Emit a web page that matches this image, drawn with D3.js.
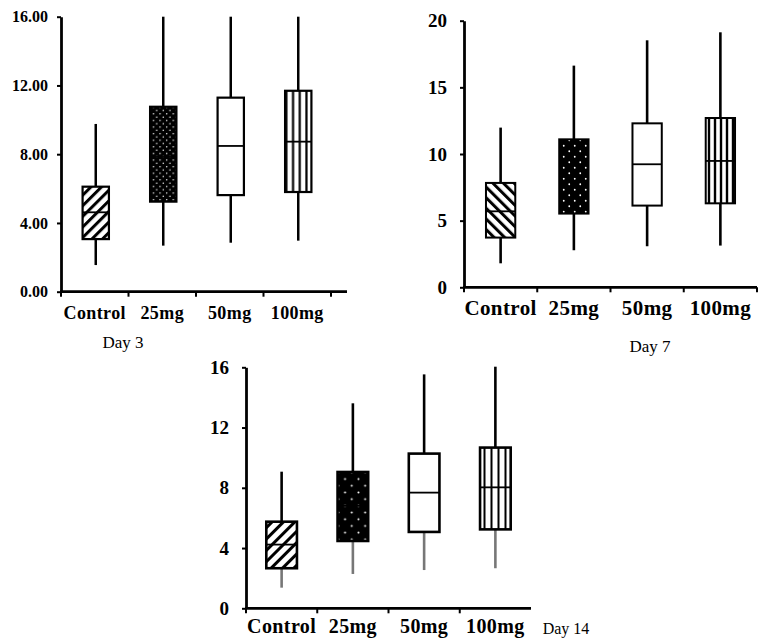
<!DOCTYPE html>
<html>
<head>
<meta charset="utf-8">
<script src="https://cdn.jsdelivr.net/npm/d3@7"></script>
<style>
  body { margin: 0; background: #fff; }
  svg { display: block; }
  text { font-family: "Times New Roman", "Liberation Serif", serif; fill: #000; }
  .tick text { font-weight: bold; }
</style>
</head>
<body>
<script>
// Box plot data
const groups = ['Control', '25mg', '50mg', '100mg'];

const day3Min = [1.55, 2.68, 2.85, 2.97];
const day3Q1 = [3.06, 5.24, 5.62, 5.80];
const day3Median = [4.62, 7.84, 8.48, 8.73];
const day3Q3 = [6.11, 10.76, 11.29, 11.69];
const day3Max = [9.76, 16.0, 16.0, 16.0];
const day3Ticks = [0, 4, 8, 12, 16];

const day7Min = [1.8, 2.78, 3.08, 3.13];
const day7Q1 = [3.73, 5.53, 6.13, 6.3];
const day7Median = [5.7, 8.3, 9.23, 9.48];
const day7Q3 = [7.83, 11.1, 12.3, 12.7];
const day7Max = [11.98, 16.63, 18.53, 19.13];
const day7Ticks = [0, 5, 10, 15, 20];

const day14Min = [1.37, 2.28, 2.54, 2.66];
const day14Q1 = [2.66, 4.47, 5.07, 5.24];
const day14Median = [4.23, 6.8, 7.68, 8.03];
const day14Q3 = [5.75, 9.05, 10.27, 10.67];
const day14Max = [9.07, 13.61, 15.53, 16.04];
const day14Ticks = [0, 4, 8, 12, 16];

const svg = d3.select('body').append('svg')
  .attr('width', 765)
  .attr('height', 642);

const defs = svg.append('defs');

// diagonal hatch, angle gives "/" or "\"
function hatch (id, angle, gap, thick) {
  const p = defs.append('pattern')
    .attr('id', id)
    .attr('patternUnits', 'userSpaceOnUse')
    .attr('width', gap).attr('height', gap)
    .attr('patternTransform', `rotate(${angle})`);
  p.append('rect').attr('width', gap).attr('height', gap).attr('fill', '#fff');
  p.append('rect').attr('width', thick).attr('height', gap).attr('fill', '#000');
}

// black fill with staggered white dots
function dots (id, gap, r) {
  const p = defs.append('pattern')
    .attr('id', id)
    .attr('patternUnits', 'userSpaceOnUse')
    .attr('width', gap).attr('height', gap);
  p.append('rect').attr('width', gap).attr('height', gap).attr('fill', '#000');
  p.append('circle').attr('cx', gap / 4).attr('cy', gap / 4).attr('r', r).attr('fill', '#fff');
  p.append('circle').attr('cx', gap * 3 / 4).attr('cy', gap * 3 / 4).attr('r', r).attr('fill', '#fff');
}

// vertical stripes
function vlines (id, gap, thick, x0) {
  const p = defs.append('pattern')
    .attr('id', id)
    .attr('patternUnits', 'userSpaceOnUse')
    .attr('x', x0)
    .attr('width', gap).attr('height', 10);
  p.append('rect').attr('width', gap).attr('height', 10).attr('fill', '#fff');
  p.append('rect').attr('x', gap / 2 - thick / 2).attr('width', thick).attr('height', 10).attr('fill', '#000');
}

hatch('hatch3', 45, 7.5, 3);
hatch('hatch7', -45, 7.5, 3);
hatch('hatch14', 45, 8, 3);
dots('dots3', 6.6, 0.75);
dots('dots7', 11, 0.9);
dots('dots14', 13.4, 1.0);
vlines('vl3', 6.7, 2.2, 283);
vlines('vl7', 6, 2.4, 706);
vlines('vl14', 7, 2, 481);

function drawPanel (cfg) {
  const rows = groups.map((g, i) => ({
    group: g,
    min: cfg.min[i], q1: cfg.q1[i], median: cfg.median[i], q3: cfg.q3[i], max: cfg.max[i],
    fill: cfg.fills[i]
  }));

  const x = d3.scaleBand()
    .domain(groups)
    .range([cfg.left, cfg.right])
    .paddingInner(0).paddingOuter(0);
  const y = d3.scaleLinear()
    .domain(cfg.domain)
    .range([cfg.bottom, cfg.top]);

  const g = svg.append('g');
  const bw = x.bandwidth() * cfg.boxFrac;
  const cx = d => x(d.group) + x.bandwidth() / 2 + cfg.shift;

  // whiskers
  g.selectAll('line.upper').data(rows).enter().append('line')
    .attr('x1', cx).attr('x2', cx)
    .attr('y1', d => y(d.q3)).attr('y2', d => y(d.max))
    .attr('stroke', '#000').attr('stroke-width', cfg.whisker);
  g.selectAll('line.lower').data(rows).enter().append('line')
    .attr('x1', cx).attr('x2', cx)
    .attr('y1', d => y(d.q1)).attr('y2', d => y(d.min))
    .attr('stroke', cfg.lowColor).attr('stroke-width', cfg.whisker);

  // boxes
  g.selectAll('rect.box').data(rows).enter().append('rect')
    .attr('x', d => cx(d) - bw / 2)
    .attr('width', bw)
    .attr('y', d => y(d.q3))
    .attr('height', d => y(d.q1) - y(d.q3))
    .attr('fill', d => d.fill)
    .attr('stroke', '#000')
    .attr('stroke-width', cfg.boxStroke);

  // medians
  g.selectAll('line.median').data(rows).enter().append('line')
    .attr('x1', d => cx(d) - bw / 2).attr('x2', d => cx(d) + bw / 2)
    .attr('y1', d => y(d.median)).attr('y2', d => y(d.median))
    .attr('stroke', '#000').attr('stroke-width', 1.8);

  // y axis
  const yAxis = g.append('g')
    .attr('transform', `translate(${cfg.left},0)`)
    .call(d3.axisLeft(y)
      .tickValues(cfg.ticks)
      .tickFormat(cfg.format)
      .tickSize(4)
      .tickSizeOuter(0)
      .tickPadding(cfg.yPad));
  yAxis.select('.domain').attr('stroke-width', 2.8);
  yAxis.selectAll('.tick line').attr('stroke-width', 2);
  yAxis.selectAll('.tick text')
    .style('font-size', cfg.yFont + 'px');

  // x axis: line, boundary ticks, centered labels
  g.append('line')
    .attr('x1', cfg.left - 1).attr('x2', cfg.axisEnd)
    .attr('y1', y(0)).attr('y2', y(0))
    .attr('stroke', '#000').attr('stroke-width', 2.8);
  const bounds = groups.map(c => x(c)).concat(cfg.endTick ? [x.range()[1]] : []);
  g.selectAll('line.xtick').data(bounds).enter().append('line')
    .attr('x1', d => d).attr('x2', d => d)
    .attr('y1', y(0)).attr('y2', y(0) + 5)
    .attr('stroke', '#000').attr('stroke-width', 2);
  g.selectAll('text.xlab').data(groups).enter().append('text')
    .attr('x', c => x(c) + x.bandwidth() / 2)
    .attr('y', y(0) + cfg.xLabOff)
    .attr('text-anchor', 'middle')
    .style('font-weight', 'bold')
    .style('font-size', cfg.xFont + 'px')
    .style('letter-spacing', '0.4px')
    .text(c => c);

  g.append('text')
    .attr('x', cfg.titleX).attr('y', cfg.titleY)
    .attr('text-anchor', 'middle')
    .style('font-size', cfg.titleFont + 'px')
    .text(cfg.title);
}

drawPanel({
  min: day3Min, q1: day3Q1, median: day3Median, q3: day3Q3, max: day3Max,
  ticks: day3Ticks, domain: [0, 16], format: d3.format('.2f'),
  fills: ['url(#hatch3)', 'url(#dots3)', '#fff', 'url(#vl3)'],
  left: 61, right: 331, top: 16.7, bottom: 291.7, axisEnd: 347, endTick: true,
  boxFrac: 0.39, whisker: 2.5, boxStroke: 2.2, lowColor: '#000', shift: 1,
  yFont: 16, yPad: 9, xFont: 18, xLabOff: 27,
  title: 'Day 3', titleX: 123, titleY: 348, titleFont: 17
});

drawPanel({
  min: day7Min, q1: day7Q1, median: day7Median, q3: day7Q3, max: day7Max,
  ticks: day7Ticks, domain: [0, 20], format: d3.format('d'),
  fills: ['url(#hatch7)', 'url(#dots7)', '#fff', 'url(#vl7)'],
  left: 464, right: 757, top: 20.7, bottom: 287.3, axisEnd: 757, endTick: true,
  boxFrac: 0.4, whisker: 2.6, boxStroke: 2, lowColor: '#000', shift: 0,
  yFont: 19, yPad: 13, xFont: 21, xLabOff: 28,
  title: 'Day 7', titleX: 650, titleY: 352, titleFont: 17
});

drawPanel({
  min: day14Min, q1: day14Q1, median: day14Median, q3: day14Q3, max: day14Max,
  ticks: day14Ticks, domain: [0, 16], format: d3.format('d'),
  fills: ['url(#hatch14)', 'url(#dots14)', '#fff', 'url(#vl14)'],
  left: 246, right: 531, top: 367.3, bottom: 608.3, axisEnd: 531, endTick: false,
  boxFrac: 0.43, whisker: 2.6, boxStroke: 2.6, lowColor: '#777', shift: 0,
  yFont: 19, yPad: 13, xFont: 20, xLabOff: 25,
  title: 'Day 14', titleX: 566, titleY: 634, titleFont: 16
});
</script>
</body>
</html>
